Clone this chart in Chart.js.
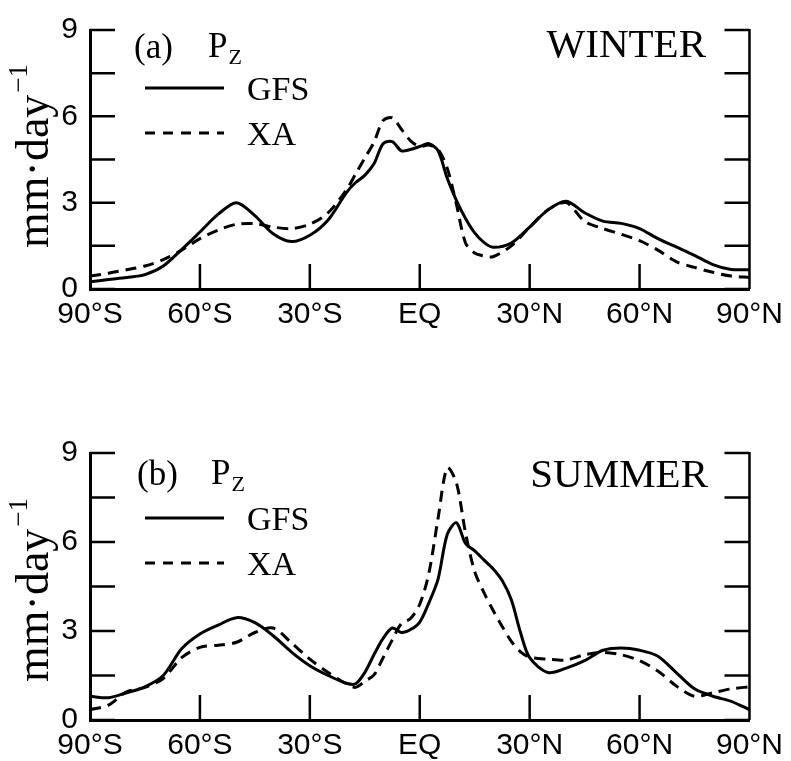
<!DOCTYPE html>
<html lang="en">
<head>
<meta charset="UTF-8">
<title>Zonal mean precipitation Pz</title>
<script src="https://cdn.jsdelivr.net/npm/chart.js@4"></script>
<style>
  body { margin: 0; background: #fff; }
  .panel { position: absolute; left: 0; width: 791px; }
  #top { top: 0; height: 330px; }
  #bot { top: 410px; height: 351px; }
</style>
</head>
<body>
<div class="panel" id="top"><canvas id="winter"></canvas></div>
<div class="panel" id="bot"><canvas id="summer"></canvas></div>

<script>
// latitude labels for the x axis
const latLabels = ['90°S', '60°S', '30°S', 'EQ', '30°N', '60°N', '90°N'];

// (a) winter
const winterLat = [-90, -85, -80, -75, -70, -65, -60, -55, -50, -45, -40, -35, -30, -25, -20,
  -17.5, -15, -12.5, -10, -7.5, -5, -2.5, 0, 2.5, 5, 7.5, 10, 12.5, 15, 17.5, 20,
  25, 30, 35, 40, 45, 50, 55, 60, 65, 70, 75, 80, 85, 90];
const winterGFS = [0.25, 0.33, 0.40, 0.50, 0.80, 1.37, 1.98, 2.60, 3.00, 2.55, 1.92, 1.65, 1.87, 2.40, 3.35,
  3.70, 3.95, 4.35, 5.05, 5.12, 4.80, 4.85, 4.95, 5.05, 4.80, 3.85, 3.08, 2.45, 1.95, 1.62, 1.45,
  1.60, 2.15, 2.75, 3.05, 2.65, 2.36, 2.28, 2.10, 1.75, 1.46, 1.17, 0.85, 0.68, 0.67];
const winterXA = [0.45, 0.55, 0.67, 0.80, 1.02, 1.35, 1.75, 2.05, 2.25, 2.27, 2.15, 2.10, 2.25, 2.65, 3.45,
  4.00, 4.55, 5.10, 5.85, 5.95, 5.55, 5.15, 4.95, 5.00, 4.85, 4.20, 2.95, 1.60, 1.25, 1.15, 1.12,
  1.50, 2.15, 2.75, 3.00, 2.35, 2.10, 1.90, 1.68, 1.35, 0.95, 0.75, 0.58, 0.45, 0.40];

// (b) summer
const summerLat = [-90, -85, -80, -75, -70, -65, -60, -55, -50, -45, -40, -35, -30, -25, -20,
  -17.5, -15, -12.5, -10, -7.5, -5, -2.5, 0, 2.5, 5, 7.5, 10, 12.5, 15, 17.5, 20, 22.5, 25, 27.5, 30,
  35, 40, 45, 50, 55, 60, 65, 70, 75, 80, 85, 90];
const summerGFS = [0.80, 0.75, 0.92, 1.12, 1.50, 2.40, 2.90, 3.20, 3.45, 3.28, 2.84, 2.29, 1.83, 1.50, 1.24,
  1.22, 1.60, 2.20, 2.75, 3.10, 2.95, 3.05, 3.30, 3.95, 4.75, 6.25, 6.65, 5.95, 5.70, 5.40, 5.10, 4.70, 4.05, 2.95, 2.10,
  1.60, 1.75, 2.00, 2.35, 2.43, 2.35, 2.15, 1.60, 1.05, 0.80, 0.63, 0.35];
const summerXA = [0.35, 0.50, 0.95, 1.10, 1.40, 2.10, 2.45, 2.52, 2.62, 2.95, 3.10, 2.60, 2.05, 1.60, 1.22,
  1.10, 1.30, 1.52, 2.10, 2.70, 3.25, 3.42, 3.90, 4.95, 6.80, 8.50, 8.00, 6.30, 5.00, 4.30, 3.70, 3.15, 2.65, 2.30, 2.12,
  2.05, 2.02, 2.20, 2.28, 2.20, 2.00, 1.65, 1.15, 0.80, 0.92, 1.05, 1.12];

const serif = '"Liberation Serif", "DejaVu Serif", serif';
const sans = '"Liberation Sans", "DejaVu Sans", sans-serif';

// inward ticks, right axis, panel label, season, legend, y title
const decor = {
  id: 'decor',
  afterDraw(chart, args, o) {
    const { ctx, chartArea: a, scales: { x, y } } = chart;
    ctx.save();
    ctx.strokeStyle = '#000';
    ctx.fillStyle = '#000';
    ctx.lineWidth = 2.5;
    ctx.beginPath();
    y.ticks.forEach(t => {
      const py = y.getPixelForValue(t.value);
      ctx.moveTo(a.left, py); ctx.lineTo(a.left + 25, py);
      ctx.moveTo(a.right, py); ctx.lineTo(a.right - 25, py);
    });
    x.ticks.forEach(t => {
      if (t.value <= x.min || t.value >= x.max) return;
      const px = x.getPixelForValue(t.value);
      ctx.moveTo(px, a.bottom); ctx.lineTo(px, a.bottom - 25);
    });
    // right axis
    ctx.moveTo(a.right, a.top - 1); ctx.lineTo(a.right, a.bottom);
    ctx.stroke();

    // panel tag "(a) Pz"
    ctx.textBaseline = 'alphabetic';
    ctx.textAlign = 'left';
    ctx.font = '35px ' + serif;
    ctx.fillText(o.tag, o.tagX, o.tagY);
    ctx.fillText('P', o.tagX + 74, o.tagY - 1);
    const pw = ctx.measureText('P').width;
    ctx.font = '22px ' + serif;
    ctx.fillText('Z', o.tagX + 74 + pw + 1, o.tagY + 6);

    // season
    ctx.font = '41px ' + serif;
    ctx.textAlign = 'right';
    ctx.fillText(o.season, o.seasonX, o.seasonY);

    // legend
    ctx.textAlign = 'left';
    ctx.font = '34px ' + serif;
    chart.data.datasets.forEach((ds, i) => {
      const ly = o.legY + i * 45;
      ctx.lineWidth = 3;
      ctx.setLineDash(ds.borderDash ? [10, 8] : []);
      ctx.beginPath();
      ctx.moveTo(145, ly); ctx.lineTo(224, ly);
      ctx.stroke();
      ctx.setLineDash([]);
      ctx.fillText(ds.label, 247, ly + 12);
    });

    // y axis title mm·day^-1
    ctx.translate(48, o.titleBottom);
    ctx.rotate(-Math.PI / 2);
    ctx.font = '46px ' + serif;
    ctx.fillText('mm·day', 0, 0);
    const w = ctx.measureText('mm·day').width;
    ctx.font = '27px ' + serif;
    ctx.fillText('−1', w + 2, -21);
    ctx.restore();
  }
};

function makeChart(id, lat, gfs, xa, deco, padTop, padRight) {
  return new Chart(document.getElementById(id), {
    type: 'line',
    data: {
      datasets: [
        { label: 'GFS', data: lat.map((v, i) => ({ x: v, y: gfs[i] })),
          borderColor: '#000', borderWidth: 3, pointRadius: 0, tension: 0.3, fill: false },
        { label: 'XA', data: lat.map((v, i) => ({ x: v, y: xa[i] })),
          borderColor: '#000', borderWidth: 3, borderDash: [11, 7], pointRadius: 0, tension: 0.3, fill: false }
      ]
    },
    options: {
      responsive: true,
      maintainAspectRatio: false,
      animation: false,
      layout: { padding: { top: padTop, right: padRight, left: 0, bottom: 0 } },
      plugins: { legend: { display: false }, tooltip: { enabled: false }, decor: deco },
      scales: {
        x: {
          type: 'linear', min: -90, max: 90,
          grid: { display: false, drawTicks: false },
          border: { display: true, color: '#000', width: 3 },
          ticks: {
            stepSize: 30, padding: 8, color: '#000', maxRotation: 0,
            font: { family: sans, size: 30 },
            callback: v => latLabels[(v + 90) / 30]
          },
          afterFit: s => { s.height = 41; }
        },
        y: {
          min: 0, max: 9,
          grid: { display: false, drawTicks: false },
          border: { display: true, color: '#000', width: 3 },
          ticks: {
            stepSize: 1.5, padding: 12, color: '#000',
            font: { family: sans, size: 30 },
            callback: v => (v % 3 === 0 ? v : '')
          },
          afterFit: s => { s.width = 90; }
        }
      }
    },
    plugins: [decor]
  });
}

makeChart('winter', winterLat, winterGFS, winterXA,
  { tag: '(a)', tagX: 134, tagY: 58, season: 'WINTER', seasonX: 706, seasonY: 57, legY: 88, titleBottom: 248 },
  20, 39);
makeChart('summer', summerLat, summerGFS, summerXA,
  { tag: '(b)', tagX: 137, tagY: 75, season: 'SUMMER', seasonX: 708, seasonY: 77, legY: 108, titleBottom: 272 },
  43, 36);
</script>
</body>
</html>
